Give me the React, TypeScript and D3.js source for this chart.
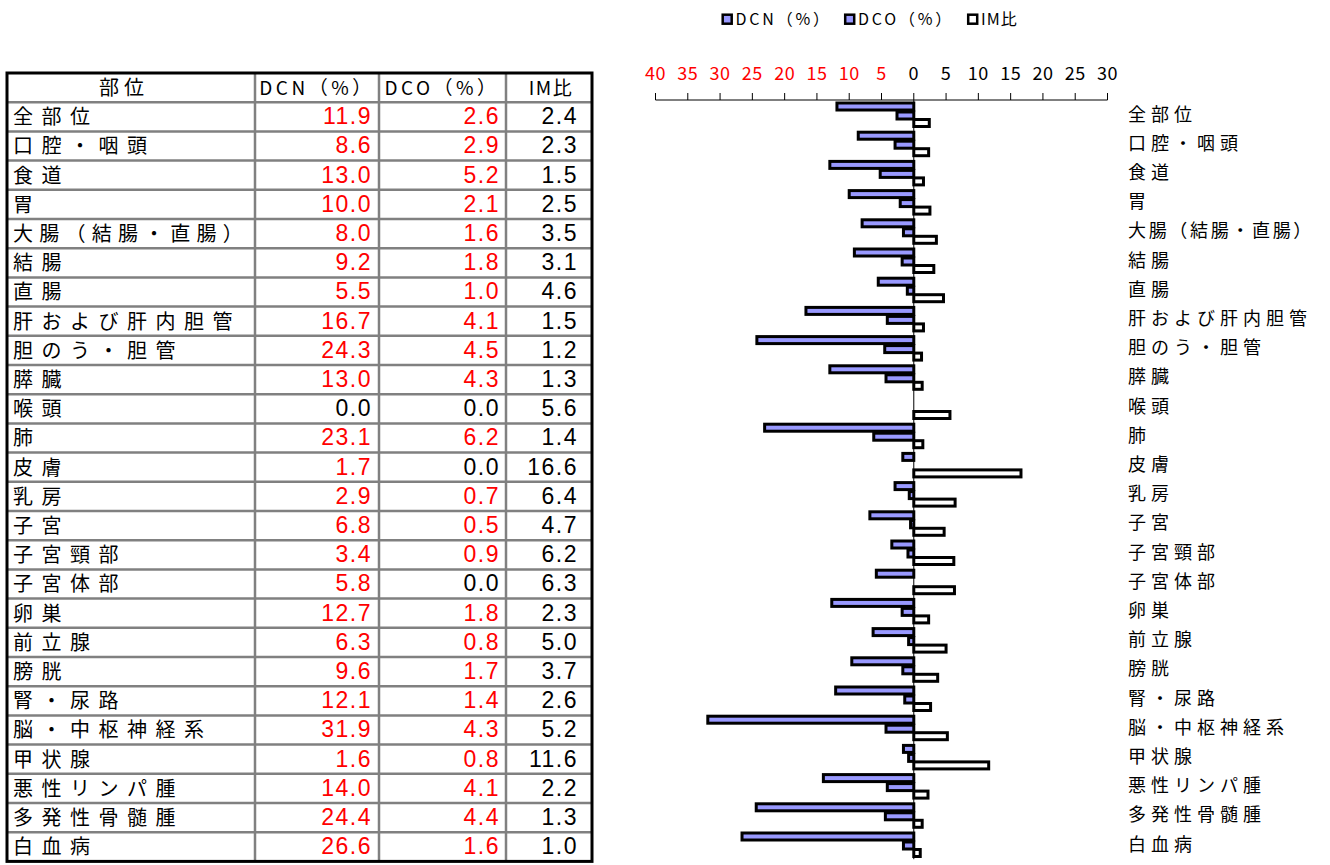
import React from "react";
import * as d3 from "d3";

const sites = [
  "全部位", "口腔・咽頭", "食道", "胃", "大腸（結腸・直腸）", "結腸", "直腸",
  "肝および肝内胆管", "胆のう・胆管", "膵臓", "喉頭", "肺", "皮膚", "乳房", "子宮",
  "子宮頸部", "子宮体部", "卵巣", "前立腺", "膀胱", "腎・尿路", "脳・中枢神経系",
  "甲状腺", "悪性リンパ腫", "多発性骨髄腫", "白血病",
];
const dcn = [11.9, 8.6, 13.0, 10.0, 8.0, 9.2, 5.5, 16.7, 24.3, 13.0, 0.0, 23.1, 1.7, 2.9, 6.8, 3.4, 5.8, 12.7, 6.3, 9.6, 12.1, 31.9, 1.6, 14.0, 24.4, 26.6];
const dco = [2.6, 2.9, 5.2, 2.1, 1.6, 1.8, 1.0, 4.1, 4.5, 4.3, 0.0, 6.2, 0.0, 0.7, 0.5, 0.9, 0.0, 1.8, 0.8, 1.7, 1.4, 4.3, 0.8, 4.1, 4.4, 1.6];
const imRatio = [2.4, 2.3, 1.5, 2.5, 3.5, 3.1, 4.6, 1.5, 1.2, 1.3, 5.6, 1.4, 16.6, 6.4, 4.7, 6.2, 6.3, 2.3, 5.0, 3.7, 2.6, 5.2, 11.6, 2.2, 1.3, 1.0];
const tickValues = [-40, -35, -30, -25, -20, -15, -10, -5, 0, 5, 10, 15, 20, 25, 30];
const headers = ["部位", "DCN（%）", "DCO（%）", "IM比"];
const legendItems = ["DCN（%）", "DCO（%）", "IM比"];

const FONT = "'Noto Sans CJK JP', 'Noto Sans', sans-serif";
const NUMFONT = "'Liberation Sans', Arial, sans-serif";
const BLUE = "#9999FF";
const RED = "#FF0000";

export default function App() {
  // chart scales
  const x = d3.scaleLinear().domain([-40, 30]).range([655.5, 1107.5]);
  const rowH = 29.2;
  const y = d3.scaleBand<string>().domain(sites).range([100, 100 + sites.length * rowH]).padding(0);
  const x0 = x(0);

  // table scales
  const tableRows = ["__header", ...sites];
  const ty = d3.scaleBand<string>().domain(tableRows).range([73, 73 + tableRows.length * rowH]).padding(0);
  const colX = [7, 255, 379, 506, 592];
  const tTop = ty("__header")!;
  const tBottom = ty.range()[1];

  const barH = 7;
  const bars: React.ReactNode[] = [];
  sites.forEach((s, i) => {
    const b = y(s)!;
    if (dcn[i] > 0) {
      bars.push(<rect key={"n" + i} x={x(-dcn[i])} y={b + 6.5 - barH / 2} width={x0 - x(-dcn[i])} height={barH} fill={BLUE} stroke="#000" strokeWidth={3} />);
    }
    if (dco[i] > 0) {
      bars.push(<rect key={"o" + i} x={x(-dco[i])} y={b + 15.5 - barH / 2} width={x0 - x(-dco[i])} height={barH} fill={BLUE} stroke="#000" strokeWidth={3} />);
    }
    if (imRatio[i] > 0) {
      bars.push(<rect key={"m" + i} x={x0} y={b + 23 - barH / 2} width={x(imRatio[i]) - x0} height={barH} fill="#fff" stroke="#000" strokeWidth={3} />);
    }
  });

  const numColor = (v: number) => (v === 0 ? "#000" : RED);
  const labelFs = 20;
  const labelSpacing = (s: string) => Math.min(8.5, (236 - s.length * labelFs) / s.length);
  const rightFs = 18;
  const rightSpacing = (s: string) => Math.min(5, (186 - s.length * rightFs) / s.length);

  return (
    <svg width={1330} height={865} style={{ position: "absolute", left: 0, top: 0, background: "#fff" }} fontFamily={FONT}>
      <rect x={0} y={0} width={1330} height={865} fill="#fff" />
      {/* Legend */}
      {legendItems.map((t, i) => {
        const lx = [721.5, 844, 967][i];
        return (
          <g key={t}>
            <rect x={lx + 1.2} y={14.7} width={9} height={9} fill={i < 2 ? BLUE : "#fff"} stroke="#000" strokeWidth={2.5} />
            <text x={lx + 14} y={25} fontSize={16} letterSpacing={i < 2 ? 2.8 : 1} fill="#000">{t}</text>
          </g>
        );
      })}

      {/* Axis */}
      <line x1={x(-40)} x2={x(30)} y1={100} y2={100} stroke="#000" strokeWidth={1} />
      {tickValues.map((v) => (
        <g key={v}>
          <line x1={x(v)} x2={x(v)} y1={93} y2={100} stroke="#000" strokeWidth={1} />
          <text x={x(v)} y={80} fontSize={18} letterSpacing={0.5} textAnchor="middle" fill={v < 0 ? RED : "#000"}>{Math.abs(v)}</text>
        </g>
      ))}

      {/* Bars */}
      {bars}
      <line x1={x0} x2={x0} y1={100} y2={y.range()[1]} stroke="#000" strokeWidth={1} />

      {/* Right labels */}
      {sites.map((s) => (
        <text key={s} x={1128} y={y(s)! + rowH / 2 + 6} fontSize={rightFs} letterSpacing={rightSpacing(s)} fill="#000">{s}</text>
      ))}

      {/* Table */}
      {tableRows.slice(1).map((r) => (
        <line key={"h" + r} x1={colX[0]} x2={colX[4]} y1={ty(r)!} y2={ty(r)!} stroke="#808080" strokeWidth={2.5} />
      ))}
      {colX.slice(1, 4).map((cx, i) => (
        <line key={"v" + i} x1={cx} x2={cx} y1={tTop} y2={tBottom} stroke="#808080" strokeWidth={2.5} />
      ))}
      <rect x={colX[0]} y={tTop} width={colX[4] - colX[0]} height={tBottom - tTop} fill="none" stroke="#000" strokeWidth={3} />

      {headers.map((h, i) => (
        <text key={h} x={[124, 317, 442, 551][i]} y={tTop + 22} fontSize={i === 0 ? 20 : 19} letterSpacing={i === 0 ? 5 : i === 3 ? 1.5 : 3.5} textAnchor="middle" fill="#000">{h}</text>
      ))}
      {sites.map((s, i) => {
        const ry = ty(s)! + 22;
        return (
          <g key={"r" + s}>
            <text x={13} y={ry} fontSize={labelFs} letterSpacing={labelSpacing(s)} fill="#000">{s}</text>
            <text x={colX[2] - 7} y={ry} fontSize={23} fontFamily={NUMFONT} letterSpacing={1.5} textAnchor="end" fill={numColor(dcn[i])}>{dcn[i].toFixed(1)}</text>
            <text x={colX[3] - 6} y={ry} fontSize={23} fontFamily={NUMFONT} letterSpacing={1.5} textAnchor="end" fill={numColor(dco[i])}>{dco[i].toFixed(1)}</text>
            <text x={colX[4] - 14} y={ry} fontSize={23} fontFamily={NUMFONT} letterSpacing={1.5} textAnchor="end" fill="#000">{imRatio[i].toFixed(1)}</text>
          </g>
        );
      })}
    </svg>
  );
}
